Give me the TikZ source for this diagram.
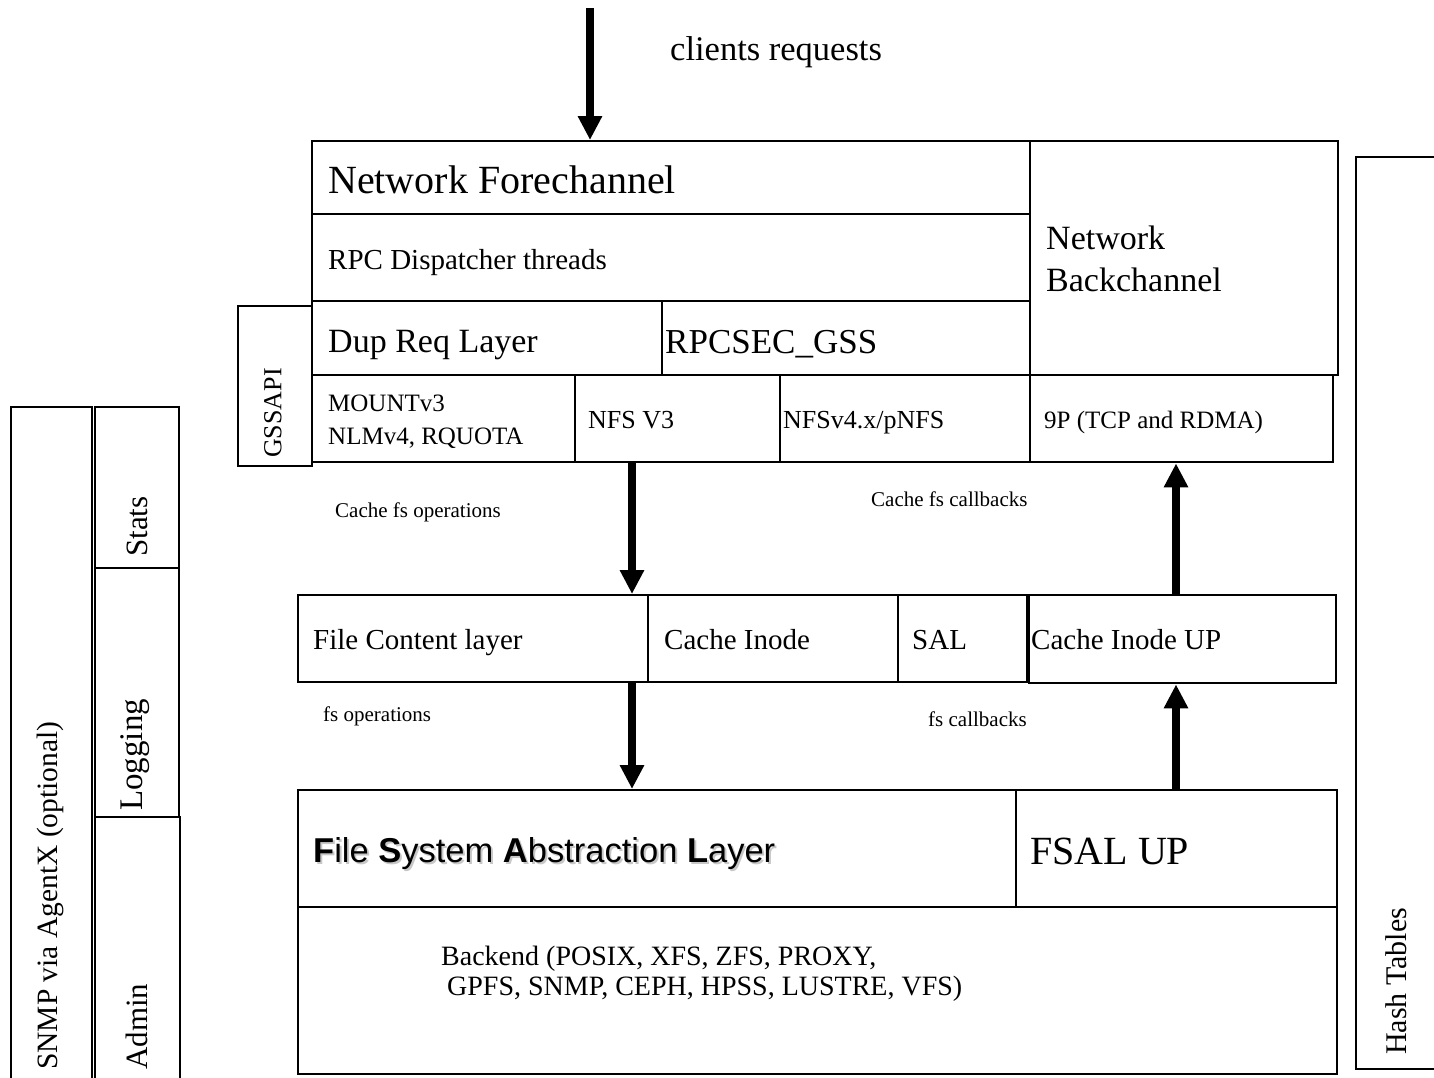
\documentclass[tikz,border=0pt]{standalone}
\usepackage{fontspec}
\setmainfont{Liberation Serif}
\newfontfamily\arialfont{Liberation Sans}
\usetikzlibrary{arrows.meta}
\newcommand{\fsz}[1]{\fontsize{#1}{\the\dimexpr #1pt*6/5\relax}\selectfont}
\tikzset{
  cellbox/.style={draw, line width=2.4pt, anchor=north west, inner sep=0pt},
  txt/.style={inner sep=0pt, anchor=base west, align=left},
  rtxt/.style={inner sep=0pt, anchor=west, rotate=90},
  bigarrow/.style={line width=7.5pt, -{Triangle[length=24pt,width=23pt]}},
}
\begin{document}
\begin{tikzpicture}[x=1pt,y=-1pt]
\useasboundingbox (0,0) rectangle (1434,1077);
\clip (0,0) rectangle (1434,1077);
% left column
\node[cellbox, minimum width=81, minimum height=700] (snmp) at (10,406) {};
\node[cellbox, minimum width=84, minimum height=161] (stats) at (94,406) {};
\node[cellbox, minimum width=84, minimum height=249] (logging) at (94,567) {};
\node[cellbox, minimum width=85, minimum height=290] (admin) at (94,816) {};
\node[rtxt, font=\fsz{29.5}] (snmpt) at (50,1070) {SNMP via AgentX (optional)};
\node[rtxt, font=\fsz{31}] (statst) at (137,557) {Stats};
\node[rtxt, font=\fsz{33}] (loggingt) at (135,811) {Logging};
\node[rtxt, font=\fsz{31}] (admint) at (137,1070) {Admin};
% hash tables
\node[cellbox, minimum width=100, minimum height=912] (hash) at (1355,156) {};
\node[rtxt, font=\fsz{30}] (hasht) at (1396,1055) {Hash Tables};
% top block
\node[cellbox, minimum width=74, minimum height=160] (gss) at (237,305) {};
\node[rtxt, font=\fsz{26}] (gsst) at (273,458) {GSSAPI};
\node[cellbox, minimum width=718, minimum height=73] (nf) at (311,140) {};
\node[cellbox, minimum width=718, minimum height=87] (rpc) at (311,213) {};
\node[cellbox, minimum width=308, minimum height=234] (nb) at (1029,140) {};
\node[cellbox, minimum width=350, minimum height=74] (dup) at (311,300) {};
\node[cellbox, minimum width=368, minimum height=74] (rpcsec) at (661,300) {};
\node[cellbox, minimum width=263, minimum height=87] (mount) at (311,374) {};
\node[cellbox, minimum width=205, minimum height=87] (nfs3) at (574,374) {};
\node[cellbox, minimum width=250, minimum height=87] (nfs4) at (779,374) {};
\node[cellbox, minimum width=303, minimum height=87] (p9) at (1029,374) {};
\node[txt, font=\fsz{40}] (nft) at (328,193) {Network Forechannel};
\node[txt, font=\fsz{29}] (rpct) at (328,269) {RPC Dispatcher threads};
\node[txt, font=\fontsize{34}{42}\selectfont] (nbt) at (1046,291) {Network\\Backchannel};
\node[txt, font=\fsz{34}] (dupt) at (328,352) {Dup Req Layer};
\node[txt, font=\fsz{35}] (rpcsect) at (665,353) {RPCSEC\_GSS};
\node[txt, font=\fontsize{25}{33}\selectfont] (mountt) at (328,444) {MOUNTv3\\NLMv4, RQUOTA};
\node[txt, font=\fsz{26}] (nfs3t) at (588,428) {NFS V3};
\node[txt, font=\fsz{26}] (nfs4t) at (783,428) {NFSv4.x/pNFS};
\node[txt, font=\fsz{25}] (p9t) at (1044,428) {9P (TCP and RDMA)};
% middle row
\node[cellbox, minimum width=350, minimum height=87] (fc) at (297,594) {};
\node[cellbox, minimum width=250, minimum height=87] (ci) at (647,594) {};
\node[cellbox, minimum width=129, minimum height=87] (sal) at (897,594) {};
\node[cellbox, minimum width=307, minimum height=88] (cup) at (1028,594) {};
\node[txt, font=\fsz{29}] (fct) at (313,649) {File Content layer};
\node[txt, font=\fsz{29}] (cit) at (664,649) {Cache Inode};
\node[txt, font=\fsz{29}] (salt) at (912,649) {SAL};
\node[txt, font=\fsz{29}] (cupt) at (1031,649) {Cache Inode UP};
% bottom block
\node[cellbox, minimum width=718, minimum height=117] (fsal) at (297,789) {};
\node[cellbox, minimum width=321, minimum height=117] (fsalup) at (1015,789) {};
\node[cellbox, minimum width=1039, minimum height=167] (backend) at (297,906) {};
\node[txt, font=\arialfont\fsz{34.5}, text=black!22] (fsalsh) at (315,864) {\textbf{F}ile \textbf{S}ystem \textbf{A}bstraction \textbf{L}ayer};
\node[txt, font=\arialfont\fsz{34.5}] (fsalt) at (313,862) {\textbf{F}ile \textbf{S}ystem \textbf{A}bstraction \textbf{L}ayer};
\node[txt, font=\fsz{40}] (fsalupt) at (1030,864) {FSAL UP};
\node[txt, font=\fontsize{28}{30}\selectfont] (backt) at (441,995) {Backend (POSIX, XFS, ZFS, PROXY,\\\hspace*{6pt}GPFS, SNMP, CEPH, HPSS, LUSTRE, VFS)};
% labels
\node[txt, font=\fsz{34.5}] (clients) at (670,60) {clients requests};
\node[txt, font=\fsz{21}] (cfo) at (335,517) {Cache fs operations};
\node[txt, font=\fsz{21}] (cfc) at (871,506) {Cache fs callbacks};
\node[txt, font=\fsz{21}] (fso) at (323,721) {fs operations};
\node[txt, font=\fsz{21}] (fscb) at (928,726) {fs callbacks};
% arrows
\coordinate (top) at (590,8);
\coordinate (dx) at (632,0);
\coordinate (ux) at (1176,0);
\draw[bigarrow] (top) -- (top |- nf.north);
\draw[bigarrow] (dx |- mount.south) -- (dx |- fc.north);
\draw[bigarrow] (dx |- fc.south) -- (dx |- fsal.north);
\draw[bigarrow] (ux |- cup.north) -- (ux |- p9.south);
\draw[bigarrow] (ux |- fsalup.north) -- (ux |- cup.south);
\end{tikzpicture}
\end{document}
